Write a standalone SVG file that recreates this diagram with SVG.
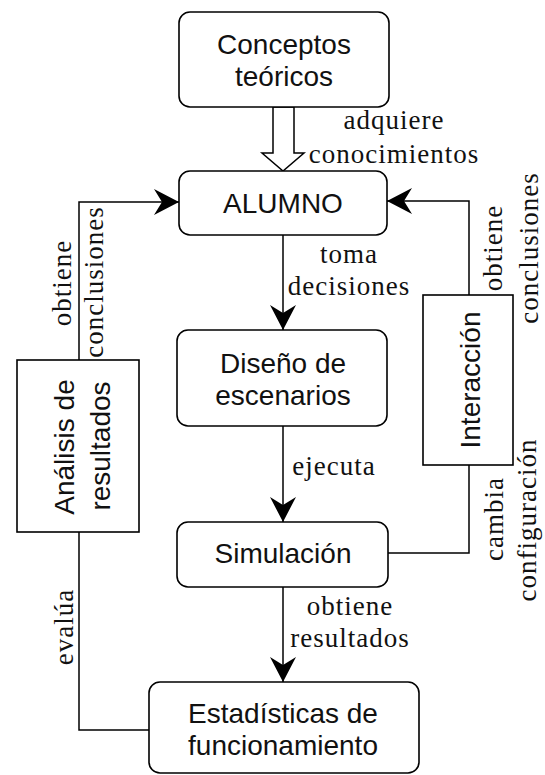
<svg xmlns="http://www.w3.org/2000/svg" width="545" height="775" viewBox="0 0 545 775">
<style>
.box{fill:#fff;stroke:#000;stroke-width:1.6}
.ln{fill:none;stroke:#000;stroke-width:1.5}
.sans{font-family:"Liberation Sans",Arial,sans-serif;font-size:28px;fill:#111;text-anchor:middle}
.serif{font-family:"Liberation Serif","Times New Roman",serif;font-size:27px;letter-spacing:1px;fill:#111;text-anchor:middle}
</style>
<defs>
<marker id="ah" viewBox="-27 -15 29 30" markerWidth="29" markerHeight="30" refX="0" refY="0" markerUnits="userSpaceOnUse" orient="auto">
<path d="M0,0 L-25,-13 L-17,0 L-25,13 Z" fill="#000"/>
</marker>
</defs>
<rect width="545" height="775" fill="#fff"/>
<g id="connectors">
<polygon points="273,107 294,107 294,153 304,153 283,171 262,153 273,153" fill="#fff" stroke="#000" stroke-width="1.5"/>
<path class="ln" d="M283,235 L283,330" marker-end="url(#ah)"/>
<path class="ln" d="M283,426 L283,522" marker-end="url(#ah)"/>
<path class="ln" d="M283,587 L283,682" marker-end="url(#ah)"/>
<path class="ln" d="M388,553 L469,553 L469,465"/>
<path class="ln" d="M469,295 L469,201 L387,201" marker-end="url(#ah)"/>
<path class="ln" d="M149,730 L79,730 L79,532"/>
<path class="ln" d="M79,360 L79,202 L179,202" marker-end="url(#ah)"/>
<text class="serif" x="394" y="129">adquiere</text>
<text class="serif" x="394" y="163">conocimientos</text>
<text class="serif" x="349" y="263">toma</text>
<text class="serif" x="349" y="295">decisiones</text>
<text class="serif" x="334" y="475">ejecuta</text>
<text class="serif" x="350" y="615">obtiene</text>
<text class="serif" x="350" y="647">resultados</text>
<text class="serif" transform="translate(71,283) rotate(-90)">obtiene</text>
<text class="serif" transform="translate(103,282) rotate(-90)">conclusiones</text>
<text class="serif" transform="translate(73,627) rotate(-90)">evalúa</text>
<text class="serif" transform="translate(502,248) rotate(-90)">obtiene</text>
<text class="serif" transform="translate(538,248) rotate(-90)">conclusiones</text>
<text class="serif" transform="translate(503,519) rotate(-90)">cambia</text>
<text class="serif" transform="translate(536,520) rotate(-90)">configuración</text>
</g>
<g id="conceptos">
<rect class="box" x="179" y="12" width="210" height="95" rx="11"/>
<text class="sans" x="284" y="54">Conceptos</text>
<text class="sans" x="284" y="86">teóricos</text>
</g>
<g id="alumno">
<rect class="box" x="179" y="171" width="208" height="64" rx="11"/>
<text class="sans" x="283" y="213">ALUMNO</text>
</g>
<g id="diseno">
<rect class="box" x="177" y="330" width="210" height="96" rx="11"/>
<text class="sans" x="283" y="373">Diseño de</text>
<text class="sans" x="283" y="405">escenarios</text>
</g>
<g id="simulacion">
<rect class="box" x="177" y="522" width="211" height="65" rx="11"/>
<text class="sans" x="283" y="563">Simulación</text>
</g>
<g id="estadisticas">
<rect class="box" x="149" y="682" width="270" height="91" rx="11"/>
<text class="sans" x="283" y="723">Estadísticas de</text>
<text class="sans" x="283" y="755">funcionamiento</text>
</g>
<g id="analisis">
<rect class="box" x="17" y="360" width="122" height="172"/>
<text class="sans" transform="translate(74,447) rotate(-90)">Análisis de</text>
<text class="sans" transform="translate(110,446) rotate(-90)">resultados</text>
</g>
<g id="interaccion">
<rect class="box" x="423" y="295" width="90" height="170"/>
<text class="sans" transform="translate(480,380) rotate(-90)">Interacción</text>
</g>
</svg>
